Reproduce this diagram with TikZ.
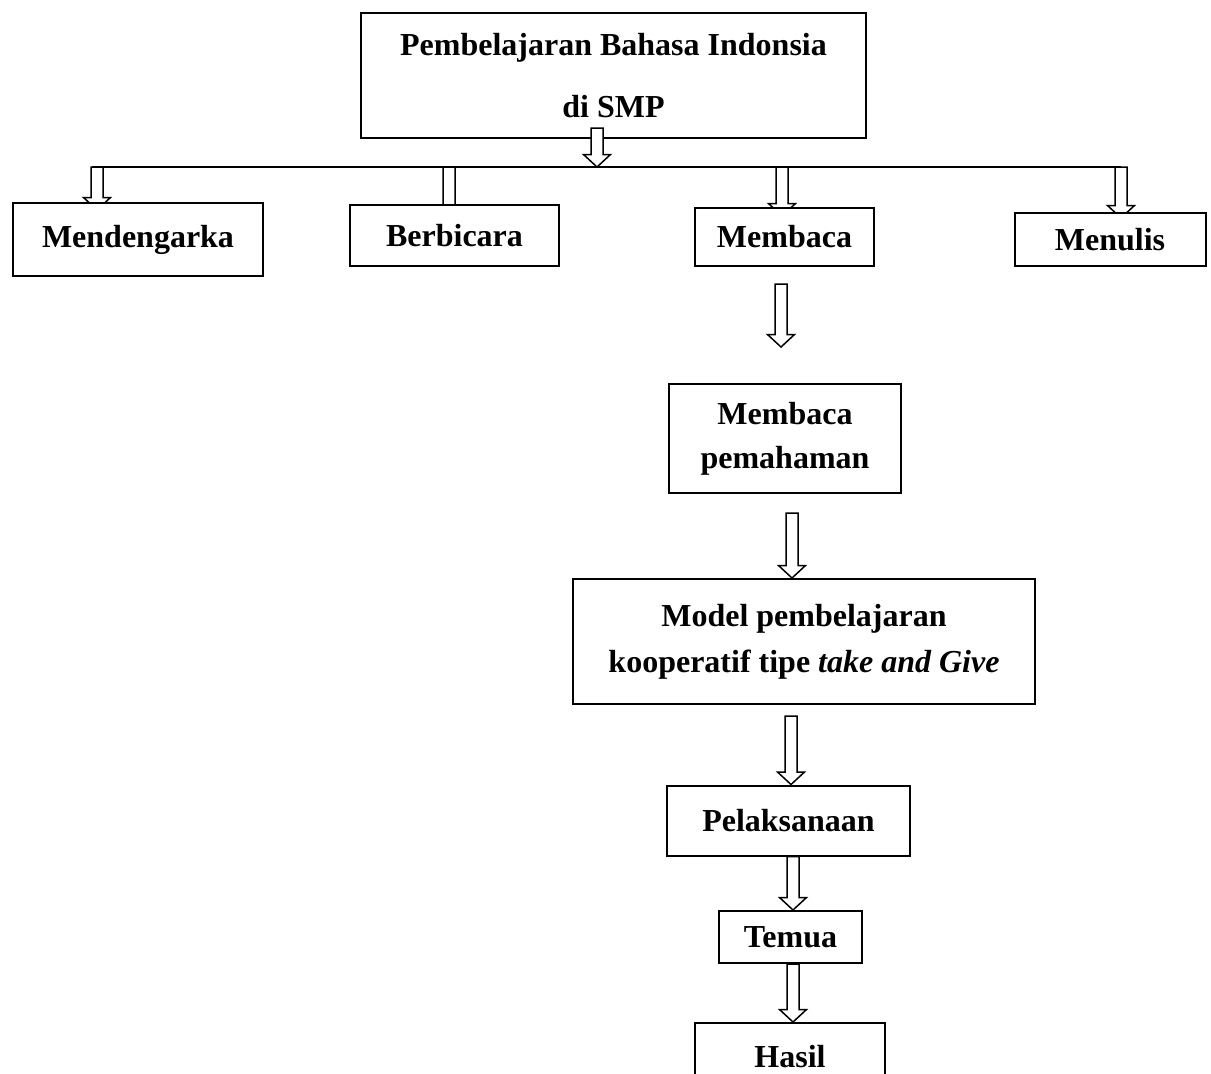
\documentclass[tikz,border=0pt]{standalone}
\usepackage{fontspec}
\setmainfont{Liberation Serif}
\usetikzlibrary{calc}
\pgfdeclarelayer{background}
\pgfdeclarelayer{canvas}
\pgfsetlayers{canvas,background,main}
\tikzset{
  box/.style={draw, line width=1pt, fill=white, inner sep=0pt, align=center,
              font=\bfseries\fontsize{16}{22}\selectfont},
  blockarrow/.style={draw, line width=0.75pt, fill=white, line join=miter},
  hline/.style={draw, line width=1pt}
}
% hollow block arrow: #1 start (top of shaft), #2 tip
\newcommand{\barrow}[2]{%
  \path[blockarrow] let \p1=#1, \p2=#2 in
    (\x1-3pt,\y1) -- (\x1-3pt,\y2+6.25pt) -- (\x1-6.75pt,\y2+6.25pt) -- (\x1,\y2)
    -- (\x1+6.75pt,\y2+6.25pt) -- (\x1+3pt,\y2+6.25pt) -- (\x1+3pt,\y1) -- cycle;}
\begin{document}
\begin{tikzpicture}[x=0.5pt,y=-0.5pt]
\useasboundingbox (0,0) rectangle (1211,1073);
\begin{pgfonlayer}{canvas}
\fill[white] (0,0) rectangle (1211,1073);
\end{pgfonlayer}
% nodes
\node[box, minimum width=252.5pt, minimum height=62.5pt,
      font=\bfseries\fontsize{16}{31}\selectfont] (top) at (613.5,75.5)
      {Pembelajaran Bahasa Indonsia\\di SMP};
\node[box, minimum width=125pt, minimum height=36.5pt] (mend) at (138,239.5) {Mendengarka};
\node[box, minimum width=104.5pt, minimum height=30.5pt] (berb) at (454.5,235.5) {Berbicara};
\node[box, minimum width=89.5pt, minimum height=29pt] (memb) at (784.5,237) {Membaca};
\node[box, minimum width=95.5pt, minimum height=26.5pt] (menu) at (1110,239.5) {\raisebox{-3pt}{Menulis}};
\node[box, minimum width=116pt, minimum height=54.5pt] (mp) at (785,438.5) {Membaca\\pemahaman};
\node[box, minimum width=231pt, minimum height=62.5pt,
      font=\bfseries\fontsize{16}{23}\selectfont] (model) at (804,641.5)
      {\raisebox{3pt}{Model pembelajaran}\\\raisebox{3pt}{kooperatif tipe \textit{take and Give}}};
\node[box, minimum width=121.5pt, minimum height=35pt] (pel) at (788.5,820.5) {Pelaksanaan};
\node[box, minimum width=71.5pt, minimum height=26pt] (tem) at (790.5,937) {Temua};
\node[box, minimum width=95pt, minimum height=35pt] (hasil) at (790,1058) {\raisebox{2pt}{Hasil}};
% branch line
\coordinate (hl) at (92,167);
\coordinate (hr) at (1121,167);
\path[hline] (hl) -- (hr);
% top arrow
\coordinate (ta) at ($(top.south)+(-16.5,-11)$);
\barrow{(ta)}{(ta |- hl)}
% branch arrows, tips hidden behind boxes
\begin{pgfonlayer}{background}
\coordinate (b1) at (97,167);
\coordinate (b2) at (449,167);
\coordinate (b3) at (782,167);
\coordinate (b4) at (1121,167);
\barrow{(b1)}{($(b1 |- mend.north)+(0,8)$)}
\barrow{(b2)}{($(b2 |- berb.north)+(0,15)$)}
\barrow{(b3)}{($(b3 |- memb.north)+(0,9)$)}
\barrow{(b4)}{($(b4 |- menu.north)+(0,6)$)}
\end{pgfonlayer}
% vertical chain
\coordinate (fa) at ($(memb.south)+(-3.5,17)$);
\coordinate (fb) at ($(fa |- mp.north)+(0,-36)$);
\barrow{(fa)}{(fb)}
\barrow{($(mp.south)+(7,19)$)}{($(mp.south |- model.north)+(7,0)$)}
\barrow{($(model.south)+(-13,11)$)}{($(model.south |- pel.north)+(-13,0)$)}
\barrow{($(pel.south)+(4.5,0)$)}{($(pel.south |- tem.north)+(4.5,0)$)}
\barrow{($(tem.south)+(2.5,0)$)}{($(tem.south |- hasil.north)+(2.5,0)$)}
\end{tikzpicture}
\end{document}
